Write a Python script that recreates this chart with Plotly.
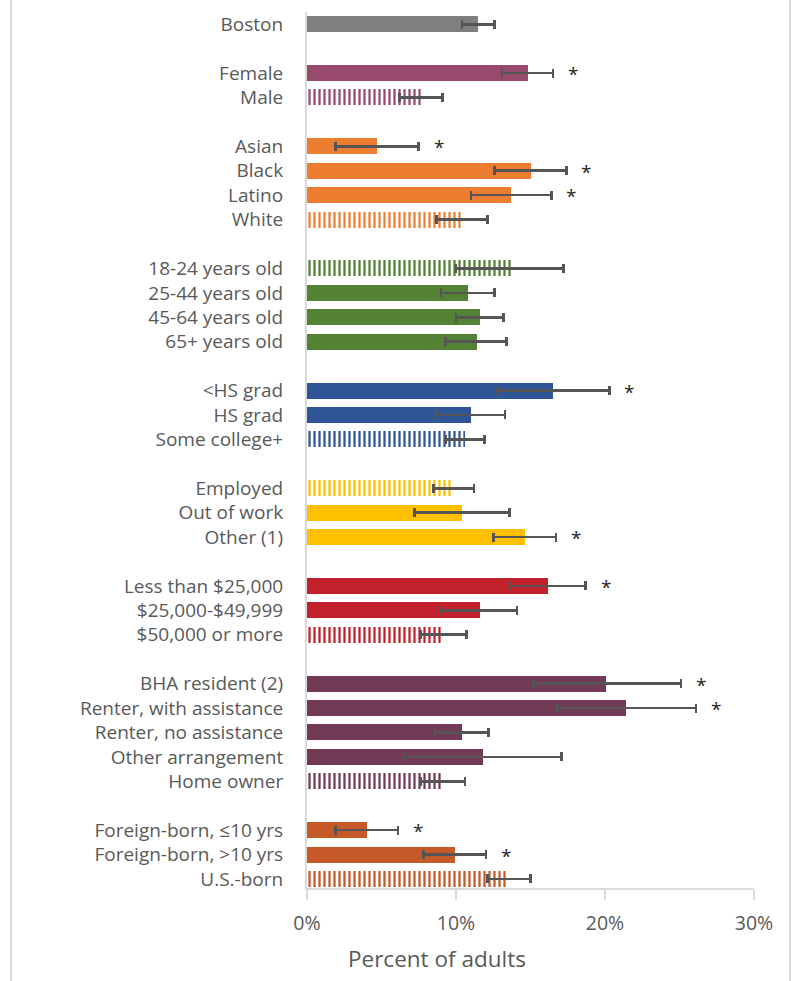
import plotly.graph_objects as go

# Share of adults, by subgroup (percent), with 95% confidence bounds
labels = [
    "Boston",
    "Female", "Male",
    "Asian", "Black", "Latino", "White",
    "18-24 years old", "25-44 years old", "45-64 years old", "65+ years old",
    "<HS grad", "HS grad", "Some college+",
    "Employed", "Out of work", "Other (1)",
    "Less than $25,000", "$25,000-$49,999", "$50,000 or more",
    "BHA resident (2)", "Renter, with assistance", "Renter, no assistance",
    "Other arrangement", "Home owner",
    "Foreign-born, ≤10 yrs", "Foreign-born, >10 yrs", "U.S.-born",
]
pct = [11.5, 14.8, 7.7, 4.7, 15.0, 13.7, 10.4, 13.7, 10.8, 11.6, 11.4,
       16.5, 11.0, 10.6, 9.7, 10.4, 14.6, 16.2, 11.6, 9.1,
       20.1, 21.4, 10.4, 11.8, 9.1, 4.0, 9.9, 13.4]
ci_low = [10.4, 13.1, 6.2, 1.9, 12.6, 11.0, 8.7, 10.0, 9.0, 10.0, 9.3,
          12.7, 8.7, 9.3, 8.5, 7.2, 12.5, 13.7, 9.0, 7.6,
          15.2, 16.8, 8.6, 6.5, 7.6, 1.9, 7.8, 12.1]
ci_high = [12.6, 16.5, 9.1, 7.5, 17.4, 16.4, 12.1, 17.2, 12.6, 13.2, 13.4,
           20.3, 13.3, 11.9, 11.2, 13.6, 16.7, 18.7, 14.1, 10.7,
           25.1, 26.1, 12.2, 17.1, 10.6, 6.1, 12.0, 15.0]
# statistically different from the reference group
significant = ["Female", "Asian", "Black", "Latino", "<HS grad", "Other (1)",
               "Less than $25,000", "BHA resident (2)", "Renter, with assistance",
               "Foreign-born, ≤10 yrs", "Foreign-born, >10 yrs"]
# reference group within each category (drawn hatched)
reference = ["Male", "White", "18-24 years old", "Some college+", "Employed",
             "$50,000 or more", "Home owner", "U.S.-born"]

group_sizes = [1, 2, 4, 4, 3, 3, 3, 5, 3]
group_colors = ["#7F7F7F", "#974A6E", "#ED7D31", "#548235", "#2F5597",
                "#FFC000", "#C0212A", "#723A55", "#C55A28"]

# vertical slot for each bar, leaving one empty slot between groups
pos, colors = [], []
slot = 0
for size, col in zip(group_sizes, group_colors):
    for _ in range(size):
        pos.append(slot)
        colors.append(col)
        slot += 1
    slot += 1
last_slot = pos[-1]

shapes_pat = ["|" if lab in reference else "" for lab in labels]
err_plus = [h - v for h, v in zip(ci_high, pct)]
err_minus = [v - l for v, l in zip(pct, ci_low)]

FONT = "Open Sans"
GREY = "#595959"
LINE = "#D9D9D9"

fig = go.Figure()
fig.add_trace(go.Bar(
    x=pct, y=pos, orientation="h", width=0.655,
    marker=dict(
        color=colors,
        line=dict(width=0),
        pattern=dict(shape=shapes_pat, fgcolor=colors, bgcolor="white",
                     size=5, solidity=0.45, fillmode="replace"),
    ),
    error_x=dict(type="data", symmetric=False, array=err_plus,
                 arrayminus=err_minus, color="#555555", thickness=2.6, width=4.5),
    hoverinfo="skip",
))

annotations = []
for lab, p, hi in zip(labels, pos, ci_high):
    if lab in significant:
        annotations.append(dict(
            x=hi, y=p, xref="x", yref="y", text="*", showarrow=False,
            xanchor="center", yanchor="middle", xshift=20, yshift=-1,
            font=dict(family=FONT, size=19, color="#262626"),
        ))

W, H = 794, 981
ML, MR, MT, MB = 307, 40, 12, 93
pw = W - ML - MR
ph = H - MT - MB

# axis title, centred under the chart frame
annotations.append(dict(
    text="Percent of adults", xref="paper", yref="paper",
    x=(437 - ML) / pw, y=-(958 - MT - ph) / ph,
    xanchor="center", yanchor="middle", showarrow=False,
    font=dict(family=FONT, size=22.5, color=GREY),
))

shapes = []
for px in (11, 790):
    xp = (px - ML) / pw
    shapes.append(dict(type="line", xref="paper", yref="paper",
                       x0=xp, x1=xp, y0=-MB / ph, y1=1 + MT / ph,
                       line=dict(color=LINE, width=2)))

fig.update_layout(
    width=W, height=H,
    margin=dict(l=ML, r=MR, t=MT, b=MB),
    paper_bgcolor="white", plot_bgcolor="white",
    showlegend=False, bargap=0,
    font=dict(family=FONT, color=GREY, size=19),
    annotations=annotations, shapes=shapes,
    xaxis=dict(
        range=[0, 30], tickvals=[0, 10, 20, 30],
        ticktext=["0%", "10%", "20%", "30%"],
        showgrid=False, zeroline=False,
        showline=True, linecolor=LINE, linewidth=2,
        ticks="outside", ticklen=10, tickwidth=2, tickcolor=LINE,
        ticklabelstandoff=7,
        tickfont=dict(family=FONT, size=19.5, color=GREY),
    ),
    yaxis=dict(
        range=[last_slot + 0.37, -0.5],
        tickvals=pos, ticktext=labels,
        showgrid=False, zeroline=False,
        showline=True, linecolor=LINE, linewidth=2,
        ticks="", ticklabelstandoff=18,
        tickfont=dict(family=FONT, size=19, color=GREY),
    ),
)

fig.write_html("out.html")
